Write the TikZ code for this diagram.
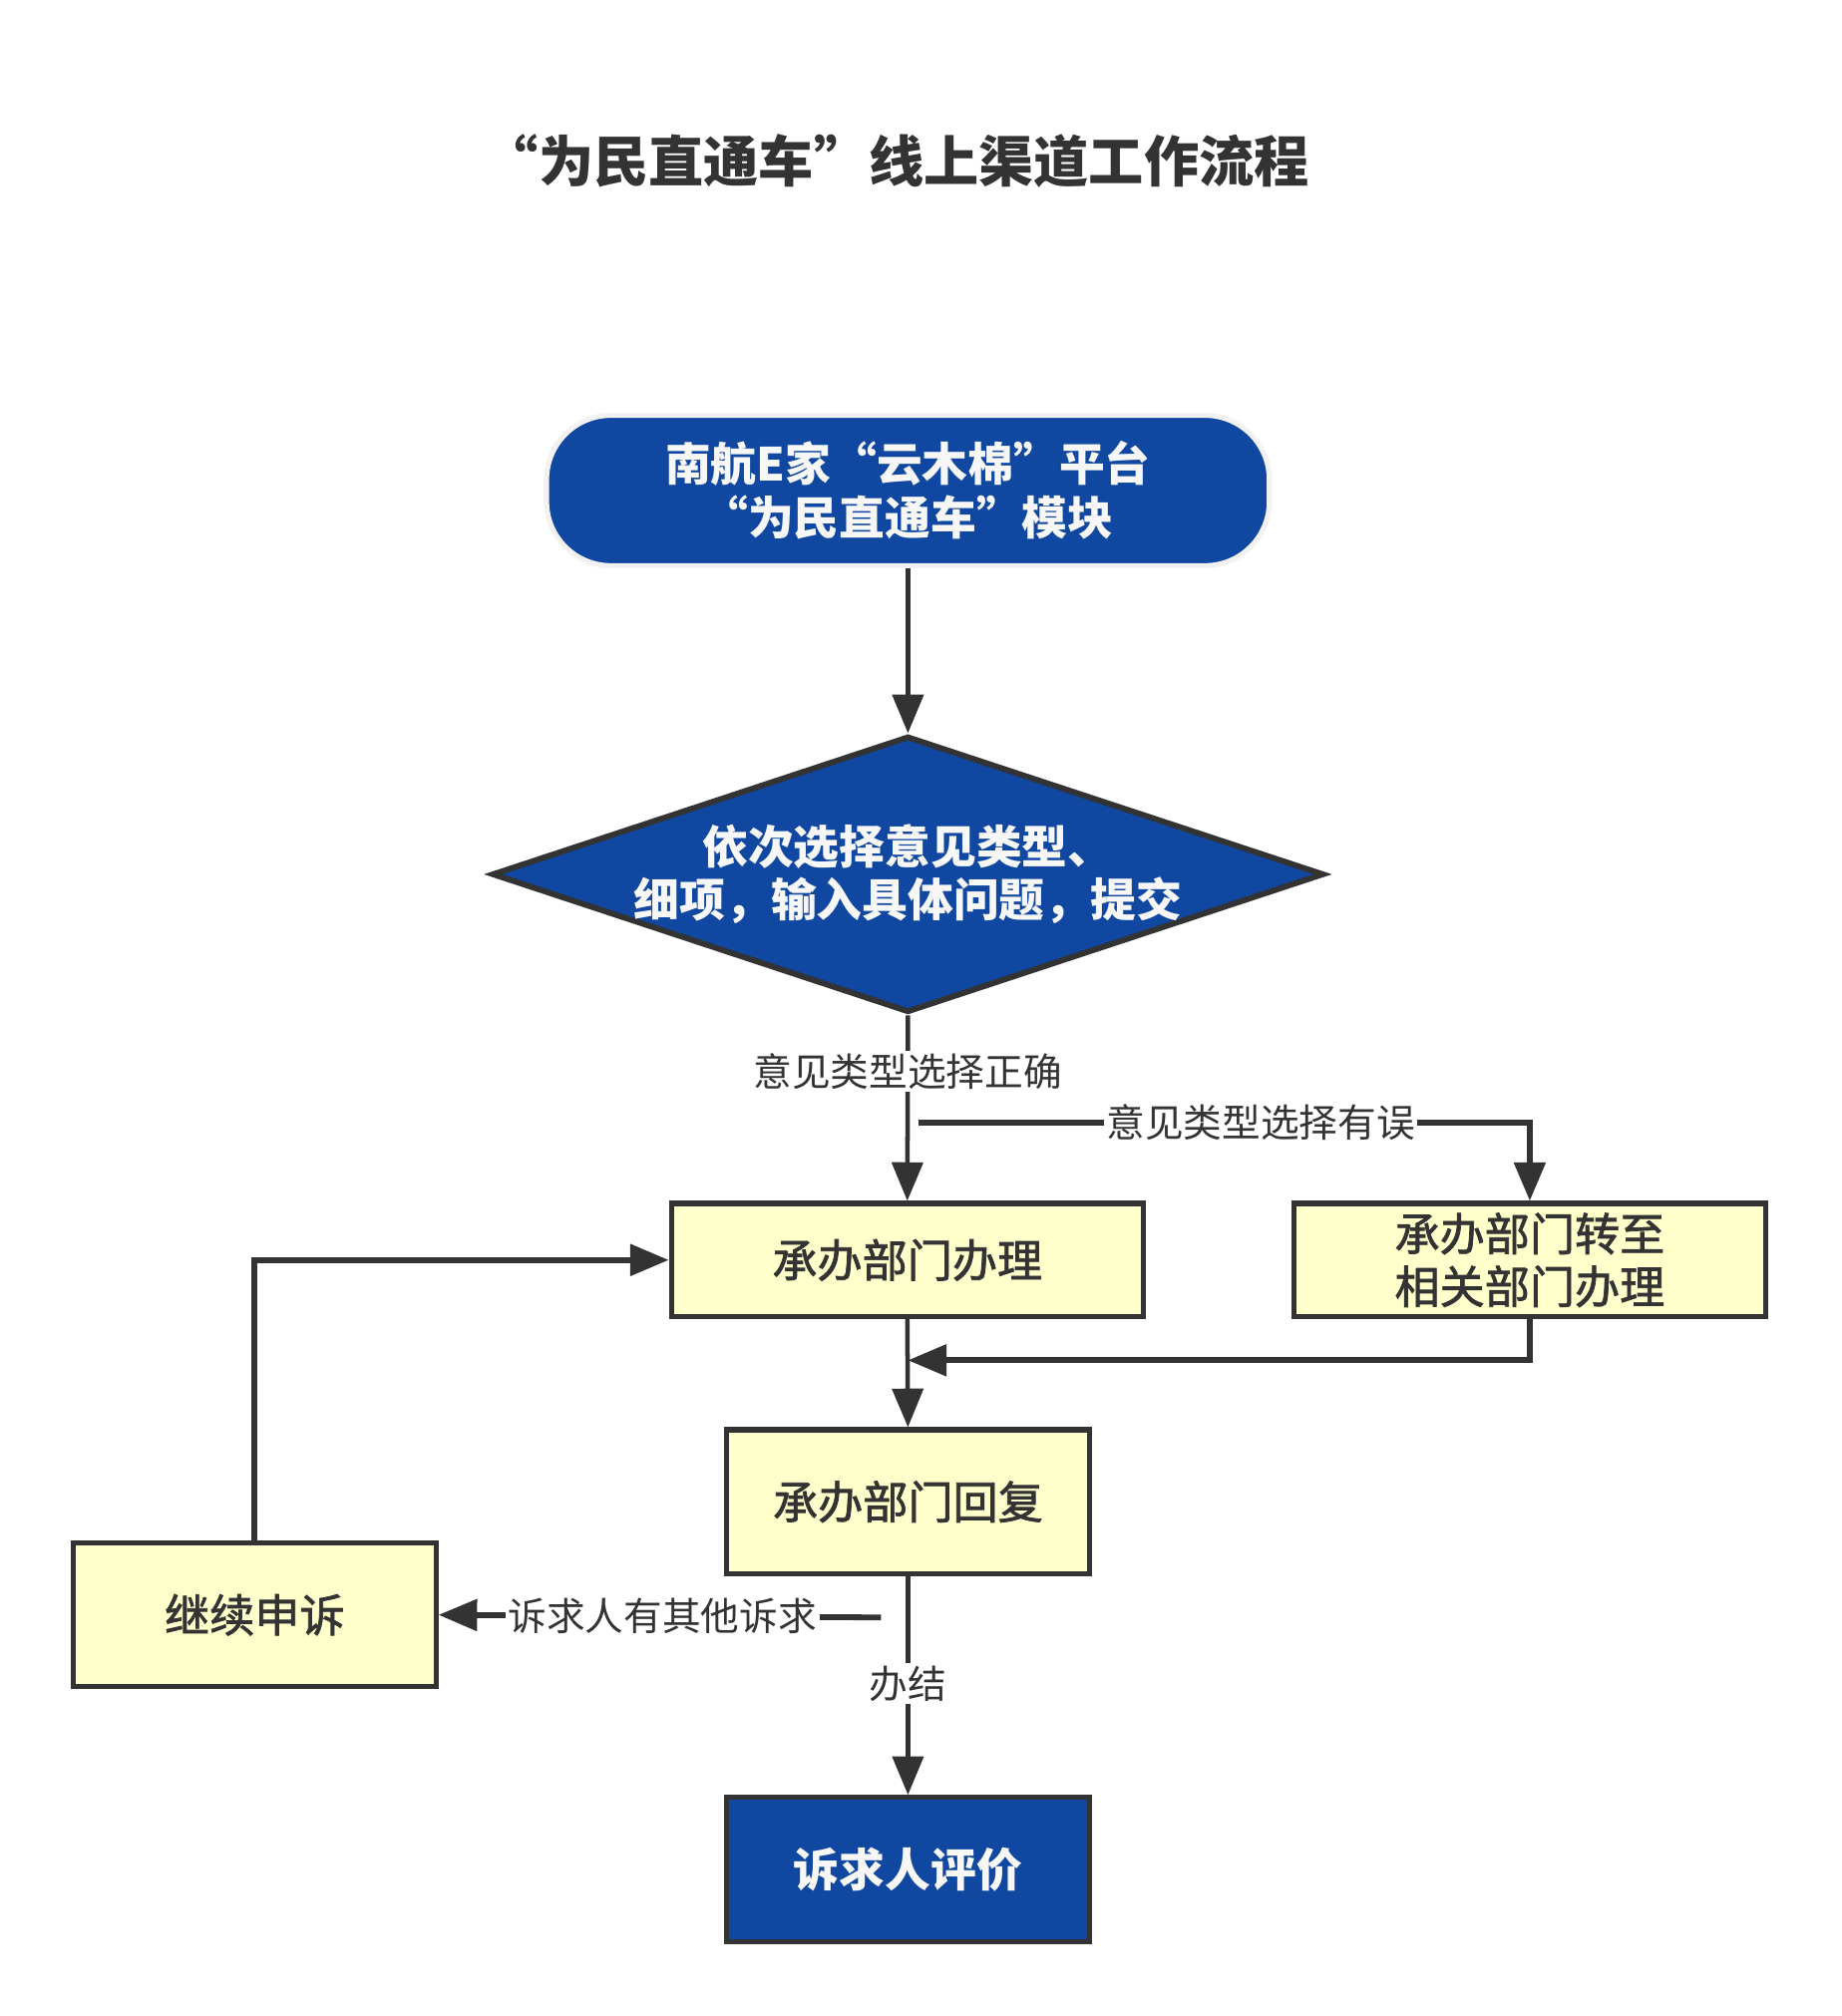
\documentclass[tikz,border=0pt]{standalone}
\usepackage{fontspec}
\setmainfont{Noto Sans CJK SC}
\newfontfamily\medfont{Noto Sans CJK SC}[FakeBold=1.6]
\usetikzlibrary{arrows.meta,shapes.geometric}
\definecolor{nblue}{HTML}{0F47A1}
\definecolor{nyel}{HTML}{FFFFCC}
\definecolor{ndark}{HTML}{333333}
\definecolor{nedge}{HTML}{F2F2F2}
\definecolor{nwhite}{HTML}{F7F7F7}
\tikzset{
  box/.style={rectangle,draw=ndark,line width=4pt,fill=nyel,text=ndark,
    font=\fontsize{35}{41}\medfont,align=center,inner sep=0pt},
  bluebox/.style={box,fill=nblue,text=nwhite,font=\fontsize{35.5}{41}\selectfont\bfseries},
  conn/.style={draw=ndark,line width=3.5pt,-{Triangle[length=30pt,width=24pt]}},
  connw/.style={conn,line width=4.5pt},
  lab/.style={fill=white,text=ndark,font=\fontsize{30}{36}\selectfont,inner sep=2pt}
}
\begin{document}
\begin{tikzpicture}[x=1pt,y=-1pt]
\useasboundingbox[fill=white] (0,0) rectangle (1432,1568);
\node[text=ndark,font=\fontsize{42.8}{50}\selectfont\bfseries] (title) at (697,125) {“为民直通车”线上渠道工作流程};
\node[rectangle,rounded corners=50pt,fill=nblue,draw=nedge,line width=4pt,
  minimum width=562pt,minimum height=117pt,text=nwhite,align=center,
  font=\fontsize{35.5}{42}\selectfont\bfseries] (start) at (706,381.5)
  {南航E家“云木棉”平台\\“为民直通车”模块};
\node[diamond,fill=nblue,draw=ndark,line width=4.5pt,inner sep=0pt,
  minimum width=647pt,minimum height=215pt] (dec) at (706,680) {};
\node[text=nwhite,align=center,font=\fontsize{35.5}{41}\selectfont\bfseries] (dect) at (706,680)
  {依次选择意见类型、\\细项，输入具体问题，提交};
\node[box,minimum width=367pt,minimum height=88pt] (b1) at (705.5,980) {承办部门办理};
\node[box,minimum width=367pt,minimum height=88pt] (b2) at (1189.5,980) {承办部门转至\\相关部门办理};
\node[box,minimum width=282pt,minimum height=112pt] (b3) at (706,1168) {承办部门回复};
\node[box,minimum width=282pt,minimum height=112pt] (b4) at (198,1256) {继续申诉};
\node[bluebox,minimum width=282pt,minimum height=112pt] (b5) at (706,1454) {诉求人评价};
\coordinate (br) at (714,873);
\coordinate (j) at (706,1058);
\coordinate (q) at (685,1258);
\draw[conn] (start.south) -- (dec.north);
\draw[conn] (dec.south) -- node[lab,pos=0.3] (l1) {意见类型选择正确} (b1.north);
\draw[connw] (br) -| node[lab,pos=0.28] (l2) {意见类型选择有误} (b2.north);
\draw[conn] (b1.south) -- (b3.north);
\draw[connw] (b2.south) |- (j);
\draw[conn] (b3.south) -- node[lab,pos=0.49] (l3) {办结} (b5.north);
\draw[connw] (q) -- node[lab,pos=0.494] (l4) {诉求人有其他诉求} (b4.east);
\draw[connw] (b4.north) |- (b1.west);
\end{tikzpicture}
\end{document}
